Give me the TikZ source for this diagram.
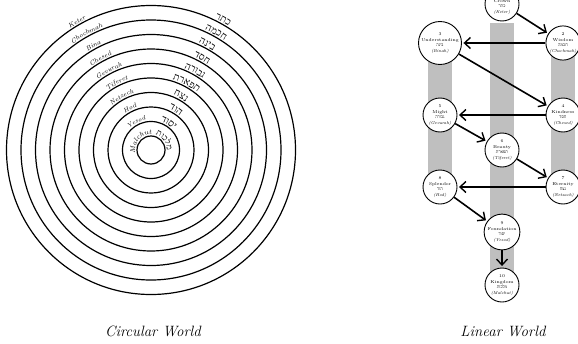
\documentclass[tikz,border=0pt]{standalone}
\usepackage{fontspec}
\usetikzlibrary{decorations.text,arrows.meta}
\newfontfamily\hebfont[Script=Hebrew]{Liberation Serif}
\TeXXeTstate=1
\newcommand\EngLabel[4]{%
  \path[decorate,decoration={text along path,text align=center,
      text={|\itshape\fontsize{#3}{#3}\selectfont|#4}}]
    ({#2+85}:{#1+1.8}) arc[start angle={#2+85}, end angle={#2-85}, radius={#1+1.8}];}
\newcommand\HebLabel[4]{%
  \path[decorate,decoration={text along path,text align=center,
      text={|\hebfont\fontsize{#3}{#3}\selectfont|#4}}]
    ({#2+85}:{#1+1.8}) arc[start angle={#2+85}, end angle={#2-85}, radius={#1+1.8}];}
\begin{document}
\begin{tikzpicture}[x=1bp,y=1bp,
  ring/.style={line width=1.2bp},
  sef/.style={circle,draw,line width=0.9bp,fill=white,minimum size=34bp,inner sep=0pt,
    align=center,font=\fontsize{4.3}{5.8}\selectfont},
  flow/.style={line width=1.6bp,-{Straight Barb[length=6bp,width=11bp,line width=1.4bp]},shorten >=1.5bp},
  bar/.style={fill=black!25,draw=none},
  caption/.style={font=\itshape\fontsize{15}{15}\selectfont,anchor=base,inner sep=0pt}]
\useasboundingbox (0,0) rectangle (578,343);
\clip (0,0) rectangle (578,343);

% ---------- Circular World ----------
\coordinate (C) at (151,193);
\foreach \k in {0,...,9} \draw[ring] (C) circle[radius={14+\k*14.5}];
\begin{scope}[shift={(151,193)}]
  \EngLabel{144.5}{120}{6.5}{Keter}
  \EngLabel{130}{119}{6.5}{Chochmah}
  \EngLabel{115.5}{119}{6.5}{Bina}
  \EngLabel{101}{119}{6.5}{Chesed}
  \EngLabel{86.5}{118}{6.5}{Gevurah}
  \EngLabel{72}{117}{6.5}{Tiferet}
  \EngLabel{57.5}{119}{6.5}{Netzech}
  \EngLabel{43}{117}{6.5}{Hod}
  \EngLabel{28.5}{118}{6.2}{Yesod}
  \EngLabel{14}{140}{7}{Malchut}
  \HebLabel{144.5}{61}{10}{רתכ}
  \HebLabel{130}{61}{10}{המכח}
  \HebLabel{115.5}{62}{10}{הניב}
  \HebLabel{101}{61}{10}{דסח}
  \HebLabel{86.5}{61}{10}{הרובג}
  \HebLabel{72}{62}{10}{תראפת}
  \HebLabel{57.5}{61}{10}{חצנ}
  \HebLabel{43}{58}{10}{דוה}
  \HebLabel{28.5}{57}{10}{דוסי}
  \HebLabel{14}{36}{8.5}{תוכלמ}
\end{scope}
\node[caption] (capC) at (153,7) {Circular World};

% ---------- Linear World ----------
\fill[bar] (490,320) rectangle (514,58);
\fill[bar] (428,300) rectangle (452,156);
\fill[bar] (551,300) rectangle (575,156);

\node[sef] (n1) at (502,339) {1\\Crown\\{\hebfont כתר}\\\textit{(Keter)}};
\node[sef] (n2) at (563,300) {2\\Wisdom\\{\hebfont חכמה}\\\textit{(Chochmah)}};
\node[sef] (n3) at (440,300) {3\\Understanding\\{\hebfont בינה}\\\textit{(Binah)}};
\node[sef] (n4) at (563,228) {4\\Kindness\\{\hebfont חסד}\\\textit{(Chesed)}};
\node[sef] (n5) at (440,228) {5\\Might\\{\hebfont גבורה}\\\textit{(Gevurah)}};
\node[sef] (n6) at (502,193) {6\\Beauty\\{\hebfont תפארת}\\\textit{(Tiferet)}};
\node[sef] (n7) at (563,156) {7\\Eternity\\{\hebfont נצח}\\\textit{(Netzach)}};
\node[sef] (n8) at (440,156) {8\\Splendor\\{\hebfont הוד}\\\textit{(Hod)}};
\node[sef] (n9) at (502,111) {9\\Foundation\\{\hebfont יסוד}\\\textit{(Yesod)}};
\node[sef] (n10) at (502,58) {10\\Kingdom\\{\hebfont מלכות}\\\textit{(Malchut)}};

\draw[flow] (n1) -- (n2);
\draw[flow] (n2) -- (n3);
\draw[flow] (n3) -- (n4);
\draw[flow] (n4) -- (n5);
\draw[flow] (n5) -- (n6);
\draw[flow] (n6) -- (n7);
\draw[flow] (n7) -- (n8);
\draw[flow] (n8) -- (n9);
\draw[flow] (n9) -- (n10);

\node[caption] (capL) at (503,7) {Linear World};
\end{tikzpicture}
\end{document}
